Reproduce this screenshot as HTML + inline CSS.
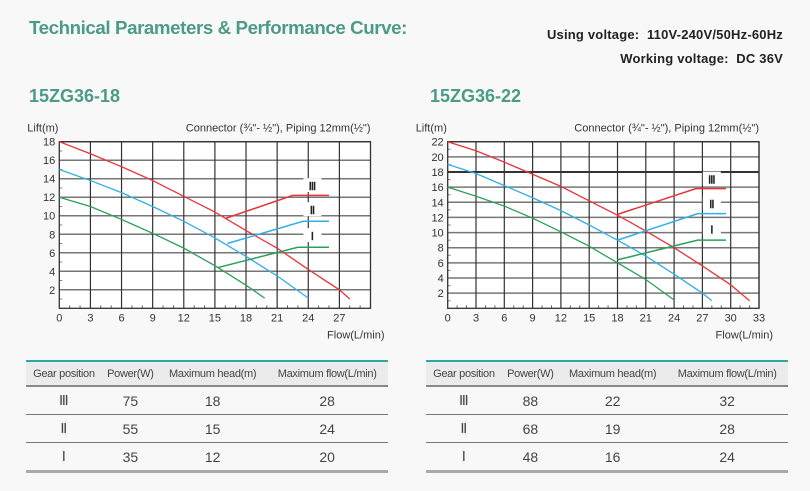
<!DOCTYPE html>
<html><head><meta charset="utf-8"><style>
body{margin:0;background:#f8f8f8;font-family:"Liberation Sans",sans-serif;}
#page{position:relative;width:810px;height:491px;overflow:hidden;background:#f8f8f8;}
.t{position:absolute;white-space:nowrap;}
.title{left:29px;top:17px;font-size:18.7px;font-weight:bold;color:#4b9b86;letter-spacing:-0.4px;}
.volt{right:27px;font-size:13px;font-weight:bold;color:#222;letter-spacing:0.2px;}
.model{top:86px;font-size:18px;font-weight:bold;color:#4b9b86;}
table{position:absolute;top:360px;width:362px;border-collapse:collapse;font-size:13px;color:#444;}
th{background:#ebebeb;font-weight:normal;font-size:11px;height:23px;padding:0;border-top:2px solid #2aa9a0;border-bottom:2px solid #888;letter-spacing:-0.3px;}
td{text-align:center;height:27px;padding:0;border-bottom:1px solid #777;font-size:14px;}
tr:last-child td{border-bottom:3px solid #aaa;}
svg{position:absolute;left:0;top:0;}
</style></head><body>
<div id="page">
<div class="t title">Technical Parameters &amp; Performance Curve:</div>
<div class="t volt" style="top:27px">Using voltage:&nbsp; 110V-240V/50Hz-60Hz</div>
<div class="t volt" style="top:51px">Working voltage:&nbsp; DC 36V</div>
<div class="t model" style="left:29px">15ZG36-18</div>
<div class="t model" style="left:430px">15ZG36-22</div>
<svg id="chart" width="810" height="491"></svg>
<table style="left:26px">
<tr><th>Gear position</th><th>Power(W)</th><th>Maximum head(m)</th><th>Maximum flow(L/min)</th></tr>
<tr><td>Ⅲ</td><td>75</td><td>18</td><td>28</td></tr>
<tr><td>Ⅱ</td><td>55</td><td>15</td><td>24</td></tr>
<tr><td>Ⅰ</td><td>35</td><td>12</td><td>20</td></tr>
</table>
<table style="left:426px">
<tr><th>Gear position</th><th>Power(W)</th><th>Maximum head(m)</th><th>Maximum flow(L/min)</th></tr>
<tr><td>Ⅲ</td><td>88</td><td>22</td><td>32</td></tr>
<tr><td>Ⅱ</td><td>68</td><td>19</td><td>28</td></tr>
<tr><td>Ⅰ</td><td>48</td><td>16</td><td>24</td></tr>
</table>
</div>
<script>
// Chart A (15ZG36-18)
const aRedX=[0,3,6,9,12,15,18,21,24,27,28];
const aRedY=[18,16.7,15.3,13.8,12.1,10.4,8.4,6.5,4.2,2,1];
const aBlueX=[0,3,6,9,12,15,18,21,24];
const aBlueY=[15,13.8,12.5,11,9.4,7.6,5.6,3.5,1.1];
const aGreenX=[0,3,6,9,12,15,18,19.8];
const aGreenY=[12,11,9.6,8.1,6.5,4.6,2.5,1.1];
const aEffRedX=[16,22.5,26], aEffRedY=[9.7,12.2,12.2];
const aEffBlueX=[16.2,23.5,26], aEffBlueY=[7,9.4,9.4];
const aEffGreenX=[15.3,23,26], aEffGreenY=[4.4,6.6,6.6];
const aXTicks=[0,3,6,9,12,15,18,21,24,27];
const aYTicks=[2,4,6,8,10,12,14,16,18];
const aLabels=["Ⅲ","Ⅱ","Ⅰ"], aLabelX=[24.4,24.4,24.4], aLabelY=[13.2,10.6,7.8];
// Chart B (15ZG36-22)
const bRedX=[0,3,6,9,12,15,18,21,24,27,30,32];
const bRedY=[22,20.8,19.3,17.7,16.1,14.2,12.3,10.2,8,5.6,3.1,1];
const bBlueX=[0,3,6,9,12,15,18,21,24,27,28];
const bBlueY=[19,17.8,16.2,14.6,12.9,11,9,6.9,4.5,2,1];
const bGreenX=[0,3,6,9,12,15,18,21,24];
const bGreenY=[16,14.8,13.5,11.9,10.1,8.2,6,3.8,1.1];
const bEffRedX=[18,26.3,29.5], bEffRedY=[12.4,15.8,15.8];
const bEffBlueX=[18,26.5,29.5], bEffBlueY=[9,12.5,12.5];
const bEffGreenX=[18,26.5,29.5], bEffGreenY=[6.4,9,9];
const bXTicks=[0,3,6,9,12,15,18,21,24,27,30,33];
const bYTicks=[2,4,6,8,10,12,14,16,18,20,22];
const bLabels=["Ⅲ","Ⅱ","Ⅰ"], bLabelX=[28,28,28], bLabelY=[17,13.8,10.4];

const svg=document.getElementById('chart');
const NS='http://www.w3.org/2000/svg';
function mk(tag,at){const e=document.createElementNS(NS,tag);for(const k in at)e.setAttribute(k,at[k]);svg.appendChild(e);return e;}
function draw(cfg,id){
  const sx=v=>cfg.x0+(v-0)/cfg.xmax*(cfg.x1-cfg.x0);
  const sy=v=>cfg.y0-(v/cfg.ymax)*(cfg.y0-cfg.y1);
  let r=mk('rect',{x:cfg.x0,y:cfg.y1,width:cfg.x1-cfg.x0,height:cfg.y0-cfg.y1,fill:'#fff'});
  
  cfg.yt.forEach(v=>{const l=mk('line',{x1:cfg.x0,x2:cfg.x1,y1:sy(v),y2:sy(v),stroke:(cfg.thick===v?'#333':'#777'),'stroke-width':(cfg.thick===v?2:1.5)});
    
    const t=mk('text',{x:cfg.x0-4,y:sy(v)+4,'text-anchor':'end','font-size':11,fill:'#333'});t.textContent=v;
    });
  for(let v=1;v<cfg.ymax;v+=2){mk('line',{x1:cfg.x0,x2:cfg.x0+3,y1:sy(v),y2:sy(v),stroke:'#888'});}
  for(let v=1;v<cfg.xmax;v++){if(v%3)mk('line',{x1:sx(v),x2:sx(v),y1:cfg.y0,y2:cfg.y0-3,stroke:'#666'});}
  cfg.xt.forEach(v=>{if(v>0){const l=mk('line',{x1:sx(v),x2:sx(v),y1:cfg.y1,y2:cfg.y0,stroke:'#333','stroke-width':1.2});
    }
    const t=mk('text',{x:sx(v),y:cfg.y0+13,'text-anchor':'middle','font-size':11,fill:'#333'});t.textContent=v;
    });
  const b=mk('rect',{x:cfg.x0,y:cfg.y1,width:cfg.x1-cfg.x0,height:cfg.y0-cfg.y1,fill:'none',stroke:'#333','stroke-width':1.3});
  
  const series=[[cfg.gx,cfg.gy,'#2aa05a','curve-gear-1'],[cfg.bx,cfg.by,'#33aee8','curve-gear-2'],[cfg.rx,cfg.ry,'#e8333b','curve-gear-3'],
    [cfg.egx,cfg.egy,'#2aa05a','eff-gear-1'],[cfg.ebx,cfg.eby,'#33aee8','eff-gear-2'],[cfg.erx,cfg.ery,'#e8333b','eff-gear-3']];
  series.forEach((s,i)=>{const p=s[0].map((x,j)=>sx(x)+','+sy(s[1][j])).join(' ');
    const l=mk('polyline',{points:p,fill:'none',stroke:s[2],'stroke-width':i>2?1.5:1.3});
    });
  cfg.lab.forEach((t,i)=>{const bx=mk('rect',{x:sx(cfg.lx[i])-9,y:sy(cfg.ly[i])-8,width:18,height:14,fill:'#fff'});
    const tx=mk('text',{x:sx(cfg.lx[i]),y:sy(cfg.ly[i])+4,'text-anchor':'middle','font-size':11,'font-weight':'bold',fill:'#222','font-family':'Liberation Serif, serif'});
    tx.textContent=t;});
  let t=mk('text',{x:cfg.x0-32,y:cfg.y1-10,'font-size':11,fill:'#333'});t.textContent='Lift(m)';
  
  t=mk('text',{x:cfg.x1,y:cfg.y1-10,'text-anchor':'end','font-size':11,fill:'#333'});t.textContent='Connector  (¾"- ½"), Piping 12mm(½")';
  
  t=mk('text',{x:cfg.x1+14,y:cfg.y0+30,'text-anchor':'end','font-size':11,fill:'#333'});t.textContent='Flow(L/min)';
  
}
draw({x0:59.3,x1:370.5,y0:308.3,y1:141.7,xmax:30,ymax:18,xt:aXTicks,yt:aYTicks,
  rx:aRedX,ry:aRedY,bx:aBlueX,by:aBlueY,gx:aGreenX,gy:aGreenY,erx:aEffRedX,ery:aEffRedY,ebx:aEffBlueX,eby:aEffBlueY,egx:aEffGreenX,egy:aEffGreenY,
  lab:aLabels,lx:aLabelX,ly:aLabelY},'chart-18');
draw({x0:447.7,x1:759,y0:308.3,y1:141.7,xmax:33,ymax:22,xt:bXTicks,yt:bYTicks,thick:18,
  rx:bRedX,ry:bRedY,bx:bBlueX,by:bBlueY,gx:bGreenX,gy:bGreenY,erx:bEffRedX,ery:bEffRedY,ebx:bEffBlueX,eby:bEffBlueY,egx:bEffGreenX,egy:bEffGreenY,
  lab:bLabels,lx:bLabelX,ly:bLabelY},'chart-22');
</script>
</body></html>
